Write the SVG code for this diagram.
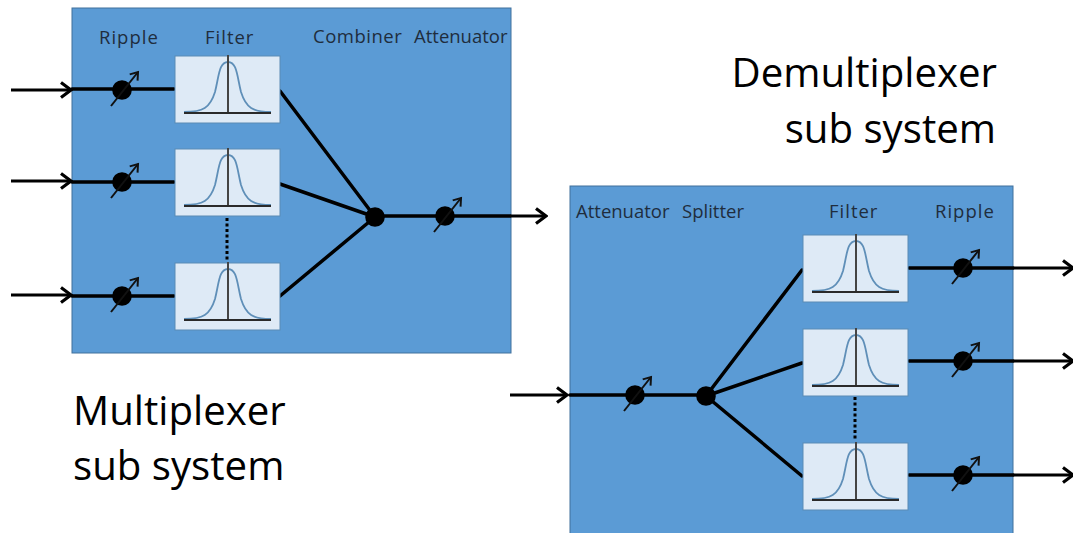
<svg xmlns="http://www.w3.org/2000/svg" width="1073" height="533" viewBox="0 0 1073 533">
<style>
.sys{fill:#5b9bd5;stroke:#41719c;stroke-width:1}
.box{fill:#deeaf6;stroke:#5a8bb5;stroke-width:1}
.curve{fill:none;stroke:#5f8fb8;stroke-width:1.8}
.ax{stroke:#2a2a2a;stroke-width:2.2;fill:none}
.vax{stroke:#444;stroke-width:2;fill:none}
.w{stroke:#000;stroke-width:3.500;fill:none;stroke-linecap:round}
.a{stroke:#000;stroke-width:3;fill:none;marker-end:url(#ah)}
.t{stroke:#111;stroke-width:2;fill:none;marker-end:url(#th)}
.lbl{font:18.500px "Open Sans","Noto Sans",sans-serif;fill:#1f2d3d}
.sp{letter-spacing:1px}
.big{font:40.200px "Open Sans","Noto Sans",sans-serif;fill:#000}
.d{stroke:#000;stroke-width:3;stroke-dasharray:3 2.5;fill:none}
</style>
<defs>
<marker id="ah" markerUnits="userSpaceOnUse" markerWidth="16" markerHeight="20" refX="14" refY="10" orient="auto"><path d="M4 2.500L14 10L4 17.500" fill="none" stroke="#000" stroke-width="3.200"/></marker>
<marker id="th" markerUnits="userSpaceOnUse" markerWidth="12" markerHeight="12" refX="9" refY="6" orient="auto"><path d="M2 1L9 6L2 11" fill="none" stroke="#111" stroke-width="2"/></marker>
<g id="filter">
<rect class="box" x="0" y="0" width="105" height="67"/>
<path class="curve" d="M9 56C28 56 35 52 40 36C44 20 44 6 53 6C62 6 62 20 66 36C71 52 78 56 96 56"/>
<path class="vax" d="M53 -1V57"/><path class="ax" d="M9 57H96"/>
</g>
<g id="att"><circle cx="0" cy="0" r="9.800" fill="#000"/><path class="t" d="M-11 16L16 -18"/></g>
</defs>
<g id="multiplexer">
<rect class="sys" x="72" y="8" width="439" height="345"/>
<text class="lbl sp" x="99" y="44">Ripple</text>
<text class="lbl sp" x="205" y="44">Filter</text>
<text class="lbl" x="313" y="43" letter-spacing="0.500">Combiner</text>
<text class="lbl" x="414" y="43">Attenuator</text>
</g>
<g id="demultiplexer">
<rect class="sys" x="570" y="186" width="443" height="350"/>
<text class="lbl" x="576" y="218">Attenuator</text>
<text class="lbl" x="682" y="218">Splitter</text>
<text class="lbl sp" x="829" y="218">Filter</text>
<text class="lbl sp" x="935" y="218">Ripple</text>
</g>
<g id="connectors">
<path class="a" d="M11 90H71"/><path class="a" d="M11 181H71"/><path class="a" d="M11 295H71"/>
<path class="w" d="M72 89H174M72 182H174M72 296H174"/>
<path class="w" d="M280 91L375 217M280 184L375 217M280 296L375 217M375 216H510"/>
<path class="a" d="M510 216H546"/>
<path class="d" d="M227 218V260"/>
<path class="a" d="M510 395H567"/>
<path class="w" d="M570 395H706M706 396L802 270M706 396L802 363M706 396L802 476"/>
<path class="w" d="M909 268H1013M909 361H1013M909 475H1013"/>
<path class="a" d="M1013 268H1073"/><path class="a" d="M1013 361H1073"/><path class="a" d="M1013 475H1073"/>
<path class="d" d="M855 397V440"/>
</g>
<g id="filter-m1"><use href="#filter" x="175" y="56"/></g>
<g id="filter-m2"><use href="#filter" x="175" y="149"/></g>
<g id="filter-m3"><use href="#filter" x="175" y="263"/></g>
<g id="filter-d1"><use href="#filter" x="803" y="235"/></g>
<g id="filter-d2"><use href="#filter" x="803" y="329"/></g>
<g id="filter-d3"><use href="#filter" x="803" y="443"/></g>
<g id="ripple-m1"><use href="#att" x="122" y="90"/></g>
<g id="ripple-m2"><use href="#att" x="122" y="182"/></g>
<g id="ripple-m3"><use href="#att" x="122" y="296"/></g>
<g id="combiner"><circle cx="375" cy="217" r="9.800" fill="#000"/></g>
<g id="attenuator-m"><use href="#att" x="445" y="216"/></g>
<g id="attenuator-d"><use href="#att" x="635" y="395"/></g>
<g id="splitter"><circle cx="706" cy="396" r="9.800" fill="#000"/></g>
<g id="ripple-d1"><use href="#att" x="963" y="268"/></g>
<g id="ripple-d2"><use href="#att" x="963" y="361"/></g>
<g id="ripple-d3"><use href="#att" x="963" y="475"/></g>
<g id="titles">
<text class="big" x="73" y="425">Multiplexer</text>
<text class="big" x="73" y="480">sub system</text>
<text class="big" x="997" y="87" text-anchor="end">Demultiplexer</text>
<text class="big" x="996" y="143" text-anchor="end">sub system</text>
</g>
</svg>
